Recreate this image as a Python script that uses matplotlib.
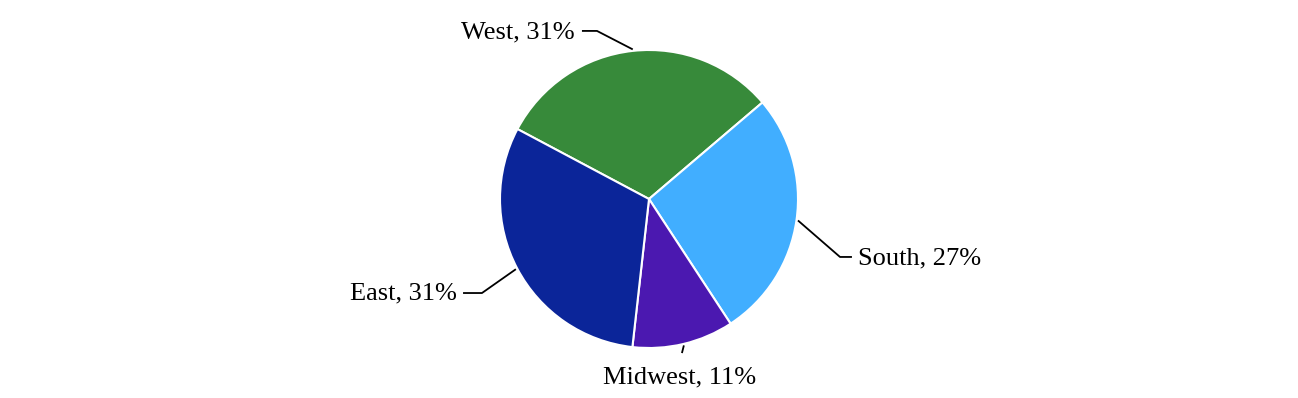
import matplotlib.pyplot as plt
import numpy as np

plt.rcParams['font.family'] = ['Liberation Serif', 'DejaVu Serif']

# Data
regions = ['West', 'South', 'Midwest', 'East']
shares = [31, 27, 11, 31]
colors = ['#378a3a', '#41aeff', '#4b18b0', '#0b2599']

# label layout (pie radius = 1): elbow point, end of horizontal stub, text anchor
elbows = [(-0.349, 1.128), (1.282, -0.389), (0.221, -1.034), (-1.121, -0.631)]
stubs = [(-0.450, 1.128), (1.362, -0.389), None, (-1.248, -0.631)]
texts = [(-0.497, 1.121, 'right'), (1.403, -0.396, 'left'),
         (0.208, -1.195, 'center'), (-1.289, -0.631, 'right')]

fig = plt.figure(figsize=(12.98, 3.98), dpi=100, facecolor='white')
ax = fig.add_axes([0, 0, 1, 1])

wedges, _ = ax.pie(shares, colors=colors, startangle=152, counterclock=False,
                   wedgeprops=dict(edgecolor='white', linewidth=1.5))

for w, name, pct, elb, stub, (tx, ty, ha) in zip(wedges, regions, shares, elbows, stubs, texts):
    mid = np.deg2rad((w.theta1 + w.theta2) / 2)
    sx, sy = 1.01 * np.cos(mid), 1.01 * np.sin(mid)
    xs, ys = [sx, elb[0]], [sy, elb[1]]
    if stub is not None:
        xs.append(stub[0])
        ys.append(stub[1])
    ax.plot(xs, ys, color='black', linewidth=1.3, solid_capstyle='butt')
    ax.text(tx, ty, f'{name}, {pct}%', fontsize=19, ha=ha, va='center', color='black')

ax.set_xlim(-649 / 149, 649 / 149)
ax.set_ylim(-199 / 149, 199 / 149)
ax.set_aspect('auto')
ax.axis('off')

plt.savefig('out.png', dpi=100, facecolor='white')
